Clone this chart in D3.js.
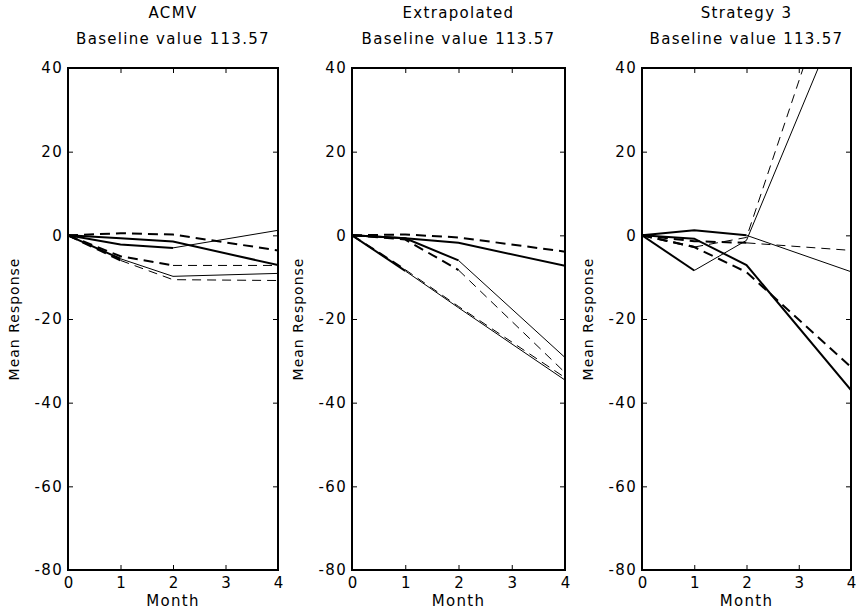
<!DOCTYPE html>
<html>
<head>
<meta charset="utf-8">
<script src="https://cdn.jsdelivr.net/npm/d3@7"></script>
<style>
    body { margin: 0; background: #fff; }
    text { font-family: "DejaVu Sans", sans-serif; }
</style>
</head>
<body>
<svg id="chart"></svg>
<script>
const months = [0, 1, 2, 4];
const xTicks = [0, 1, 2, 3, 4];
const yTicks = [-80, -60, -40, -20, 0, 20, 40];
const panelTitles = ["ACMV", "Extrapolated", "Strategy 3"];
const baselineText = "Baseline value 113.57";
const xLabel = "Month";
const yLabel = "Mean Response";

// index of the last observed month for each pattern (completers, drop after 2, drop after 1)
const lastObserved = [3, 2, 1];

// arm 1 is drawn solid, arm 2 dashed; one row per pattern
const acmvArm1 = [[0, -0.7, -1.5, -7.1], [0, -2.2, -3.0, 1.2], [0, -5.6, -9.8, -9.1]];
const acmvArm2 = [[0, 0.5, 0.2, -3.6], [0, -5.0, -7.2, -7.2], [0, -6.0, -10.6, -10.8]];
const extrapArm1 = [[0, -0.7, -1.8, -7.3], [0, -0.7, -6.0, -29.2], [0, -8.5, -17.3, -34.6]];
const extrapArm2 = [[0, 0.2, -0.5, -3.9], [0, -1.0, -8.3, -32.8], [0, -8.2, -17.0, -34.0]];
const strat3Arm1 = [[0, -0.8, -7.1, -37.0], [0, 1.2, 0.0, -8.7], [0, -8.4, -1.2, 58.8]];
const strat3Arm2 = [[0, -2.8, -8.8, -31.5], [0, -1.4, -1.8, -3.6], [0, -2.8, -0.5, 74.1]];

const width = 856;
const height = 613;
const plotTop = 68;
const plotBottom = 570;

const panels = [
    { title: panelTitles[0], arm1: acmvArm1, arm2: acmvArm2, left: 68, right: 278 },
    { title: panelTitles[1], arm1: extrapArm1, arm2: extrapArm2, left: 352, right: 565 },
    { title: panelTitles[2], arm1: strat3Arm1, arm2: strat3Arm2, left: 642, right: 851 }
];

const svg = d3.select("#chart")
    .attr("width", width)
    .attr("height", height);

svg.append("rect")
    .attr("width", width)
    .attr("height", height)
    .attr("fill", "#fff");

const fontSize = 15;
const spacing = "1.3px";

function styleAxis(g, letterSpacing) {
    g.select(".domain").remove();
    g.selectAll(".tick line").attr("stroke", "#000").attr("stroke-width", 1);
    g.selectAll("text")
        .attr("fill", "#000")
        .style("font-family", "'DejaVu Sans', sans-serif")
        .style("font-size", fontSize + "px")
        .style("letter-spacing", letterSpacing);
}

panels.forEach((p, i) => {
    const x = d3.scaleLinear().domain([0, 4]).range([p.left, p.right]);
    const y = d3.scaleLinear().domain([-80, 40]).range([plotBottom, plotTop]);
    const g = svg.append("g");

    g.append("clipPath")
        .attr("id", "clip" + i)
        .append("rect")
        .attr("x", p.left)
        .attr("y", plotTop)
        .attr("width", p.right - p.left)
        .attr("height", plotBottom - plotTop);

    const line = d3.line()
        .x(d => x(d[0]))
        .y(d => y(d[1]));

    const seg = (vals, from, to) => months.slice(from, to + 1).map((m, k) => [m, vals[from + k]]);

    const lines = g.append("g").attr("clip-path", `url(#clip${i})`);

    [p.arm1, p.arm2].forEach((arm, a) => {
        arm.forEach((vals, k) => {
            const last = lastObserved[k];
            // observed part thick
            lines.append("path")
                .attr("d", line(seg(vals, 0, last)))
                .attr("fill", "none")
                .attr("stroke", "#000")
                .attr("stroke-width", 2)
                .attr("stroke-dasharray", a === 1 ? "10,6" : null);
            // predicted part thin
            if (last < months.length - 1) {
                lines.append("path")
                    .attr("d", line(seg(vals, last, months.length - 1)))
                    .attr("fill", "none")
                    .attr("stroke", "#000")
                    .attr("stroke-width", 1)
                    .attr("stroke-dasharray", a === 1 ? "9,6" : null);
            }
        });
    });

    // axes, ticks point inwards on all sides
    g.append("g")
        .attr("transform", `translate(0,${plotBottom})`)
        .call(d3.axisBottom(x).tickValues(xTicks).tickSize(-5).tickPadding(7).tickFormat(d => String(d)))
        .call(styleAxis, "0px");

    g.append("g")
        .attr("transform", `translate(0,${plotTop})`)
        .call(d3.axisTop(x).tickValues(xTicks).tickSize(-5).tickFormat(""))
        .call(styleAxis, "0px");

    g.append("g")
        .attr("transform", `translate(${p.left},0)`)
        .call(d3.axisLeft(y).tickValues(yTicks).tickSize(-5).tickPadding(5).tickFormat(d => String(d)))
        .call(styleAxis, spacing);

    g.append("g")
        .attr("transform", `translate(${p.right},0)`)
        .call(d3.axisRight(y).tickValues(yTicks).tickSize(-5).tickFormat(""))
        .call(styleAxis, "0px");

    g.append("rect")
        .attr("x", p.left)
        .attr("y", plotTop)
        .attr("width", p.right - p.left)
        .attr("height", plotBottom - plotTop)
        .attr("fill", "none")
        .attr("stroke", "#000")
        .attr("stroke-width", 2);

    const cx = (p.left + p.right) / 2;

    g.append("text")
        .attr("x", cx)
        .attr("y", 18)
        .attr("text-anchor", "middle")
        .style("font-size", fontSize + "px")
        .style("letter-spacing", spacing)
        .text(p.title);

    g.append("text")
        .attr("x", cx)
        .attr("y", 44)
        .attr("text-anchor", "middle")
        .style("font-size", fontSize + "px")
        .style("letter-spacing", spacing)
        .text(baselineText);

    g.append("text")
        .attr("x", cx)
        .attr("y", 606)
        .attr("text-anchor", "middle")
        .style("font-size", fontSize + "px")
        .style("letter-spacing", spacing)
        .text(xLabel);

    g.append("text")
        .attr("transform", `translate(${p.left - 49},${(plotTop + plotBottom) / 2}) rotate(-90)`)
        .attr("text-anchor", "middle")
        .style("font-size", "14px")
        .style("letter-spacing", "1px")
        .text(yLabel);
});
</script>
</body>
</html>
